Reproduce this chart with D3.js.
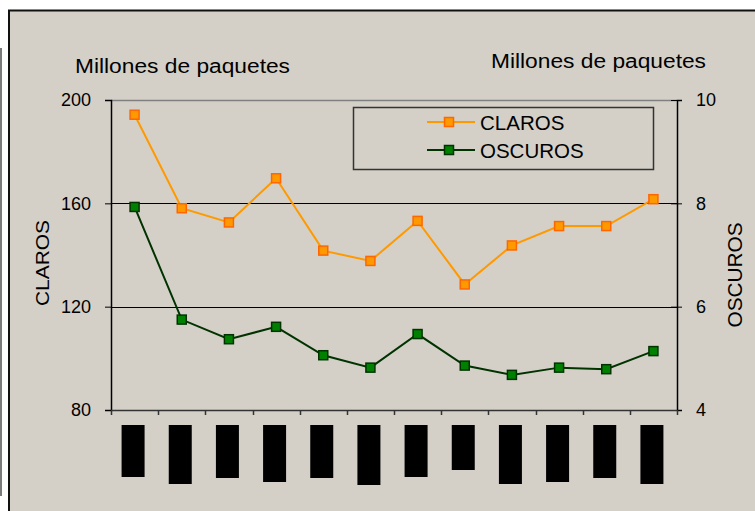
<!DOCTYPE html>
<html>
<head>
<meta charset="utf-8">
<script src="https://cdn.jsdelivr.net/npm/d3@7"></script>
<style>
  body { margin: 0; background: #fff; }
  text { font-family: "Liberation Sans", Arial, sans-serif; fill: #000; }
</style>
</head>
<body>
<div id="viz"></div>
<script>
// data (category labels are blacked out in the source)
let categories = ['c1', 'c2', 'c3', 'c4', 'c5', 'c6', 'c7', 'c8', 'c9', 'c10', 'c11', 'c12'];
let claros = [194.3, 158.1, 152.6, 169.7, 141.7, 137.7, 153.2, 128.6, 143.7, 151.2, 151.2, 161.6];
let oscuros = [7.93, 5.75, 5.37, 5.61, 5.06, 4.82, 5.47, 4.86, 4.68, 4.82, 4.79, 5.14];
let leftTicks = [80, 120, 160, 200];
let rightTicks = [4, 6, 8, 10];
// lengths of the hidden category labels (drawn as black boxes)
let labelLen = [52, 59, 53, 57, 53, 60, 52, 45, 59, 57, 53, 59];

let W = 755, H = 511;
let margin = {top: 100, right: 78, bottom: 100, left: 111},
    width = W - margin.left - margin.right,   // 566
    height = 410 - margin.top;                // 310

let root = d3.select('#viz').append('svg')
  .attr('width', W)
  .attr('height', H);

// chart frame
root.append('line').attr('x1', 1).attr('x2', 1).attr('y1', 48).attr('y2', 496)
  .attr('stroke', '#7a7a7a').attr('stroke-width', 2);
root.append('rect')
  .attr('x', 9).attr('y', 10.5)
  .attr('width', 760).attr('height', 520)
  .attr('fill', '#d4d0c8')
  .attr('stroke', '#111').attr('stroke-width', 2);

let svg = root.append('g')
  .attr('transform', `translate(${margin.left}, ${margin.top})`);

let x = d3.scaleBand().domain(categories).range([0, width]);
let yL = d3.scaleLinear().domain([80, 200]).range([height, 0]);
let yR = d3.scaleLinear().domain([4, 10]).range([height, 0]);

// gridlines
svg.selectAll('.grid')
  .data(leftTicks.filter(d => d > 80 && d < 200))
  .join('line')
  .attr('x1', 0).attr('x2', width)
  .attr('y1', d => Math.round(yL(d)) + 0.5).attr('y2', d => Math.round(yL(d)) + 0.5)
  .attr('stroke', '#000').attr('stroke-width', 1);

// plot area top edge
svg.append('line').attr('x1', 0).attr('x2', width).attr('y1', 0.5).attr('y2', 0.5)
  .attr('stroke', '#808080').attr('stroke-width', 1.5);

// left axis
let gl = svg.append('g')
  .call(d3.axisLeft(yL).tickValues(leftTicks).tickSize(6).tickPadding(14).tickFormat(d3.format('d')));
gl.select('.domain').attr('stroke', '#000').attr('stroke-width', 1.5);
gl.selectAll('.tick line').attr('stroke', '#000');
gl.selectAll('text').style('font-size', '18px').attr('font-family', null);

// right axis with crossing ticks
let gr = svg.append('g')
  .attr('transform', `translate(${width},0)`)
  .call(d3.axisRight(yR).tickValues(rightTicks).tickSize(5).tickPadding(14).tickFormat(d3.format('d')));
gr.select('.domain').attr('stroke', '#000').attr('stroke-width', 1.5);
gr.selectAll('.tick line').attr('x1', -6).attr('stroke', '#000');
gr.selectAll('text').style('font-size', '18px').attr('font-family', null);

// bottom axis, ticks at category boundaries
let gb = svg.append('g')
  .attr('transform', `translate(0,${height})`);
gb.append('line').attr('x1', 0).attr('x2', width).attr('y1', 0.5).attr('y2', 0.5)
  .attr('stroke', '#333').attr('stroke-width', 1.5);
gb.selectAll('.btick')
  .data(categories.concat(['end']))
  .join('line')
  .attr('x1', (d, i) => Math.round(i * x.bandwidth()) + 0.5)
  .attr('x2', (d, i) => Math.round(i * x.bandwidth()) + 0.5)
  .attr('y1', 0).attr('y2', 5)
  .attr('stroke', '#333').attr('stroke-width', 1.5);

// hidden category labels
gb.selectAll('.lab')
  .data(categories)
  .join('rect')
  .attr('x', d => x(d) + x.bandwidth() / 2 - 13)
  .attr('y', 15)
  .attr('width', 23)
  .attr('height', (d, i) => labelLen[i])
  .attr('fill', '#000');

// series
let series = [
  {name: 'CLAROS', values: claros, y: yL, line: '#ff9900', fill: '#ff9900', edge: '#ff6600'},
  {name: 'OSCUROS', values: oscuros, y: yR, line: '#003300', fill: '#008000', edge: '#003300'}
];

series.forEach(s => {
  let line = d3.line()
    .x((d, i) => x(categories[i]) + x.bandwidth() / 2)
    .y(d => s.y(d));
  svg.append('path')
    .datum(s.values)
    .attr('d', line)
    .attr('fill', 'none')
    .attr('stroke', s.line)
    .attr('stroke-width', 2);
  svg.selectAll('.m-' + s.name)
    .data(s.values)
    .join('rect')
    .attr('x', (d, i) => x(categories[i]) + x.bandwidth() / 2 - 4.5)
    .attr('y', d => s.y(d) - 4.5)
    .attr('width', 9).attr('height', 9)
    .attr('fill', s.fill)
    .attr('stroke', s.edge)
    .attr('stroke-width', 1.5);
});

// legend
let leg = root.append('g').attr('transform', 'translate(353,107)');
leg.append('rect')
  .attr('x', 0.5).attr('y', 0.5).attr('width', 300).attr('height', 62)
  .attr('fill', 'none').attr('stroke', '#333').attr('stroke-width', 1.5);
series.forEach((s, i) => {
  let g = leg.append('g').attr('transform', `translate(0,${15 + i * 28})`);
  g.append('line').attr('x1', 74).attr('x2', 122).attr('y1', 0).attr('y2', 0)
    .attr('stroke', s.line).attr('stroke-width', 2);
  g.append('rect').attr('x', 91.5).attr('y', -4.5).attr('width', 9).attr('height', 9)
    .attr('fill', s.fill).attr('stroke', s.edge).attr('stroke-width', 1.5);
  g.append('text').attr('x', 127).attr('y', 7.5)
    .style('font-size', '20.5px')
    .text(s.name);
});

// titles
root.append('text').attr('x', 75).attr('y', 73)
  .attr('textLength', 215).attr('lengthAdjust', 'spacingAndGlyphs')
  .style('font-size', '20px').text('Millones de paquetes');
root.append('text').attr('x', 491).attr('y', 68)
  .attr('textLength', 215).attr('lengthAdjust', 'spacingAndGlyphs')
  .style('font-size', '20px').text('Millones de paquetes');

root.append('text')
  .attr('transform', 'translate(49,263) rotate(-90)')
  .attr('text-anchor', 'middle')
  .attr('textLength', 86).attr('lengthAdjust', 'spacingAndGlyphs')
  .style('font-size', '19px')
  .text('CLAROS');
root.append('text')
  .attr('transform', 'translate(742,275) rotate(-90)')
  .attr('text-anchor', 'middle')
  .attr('textLength', 105).attr('lengthAdjust', 'spacingAndGlyphs')
  .style('font-size', '20px')
  .text('OSCUROS');
</script>
</body>
</html>
